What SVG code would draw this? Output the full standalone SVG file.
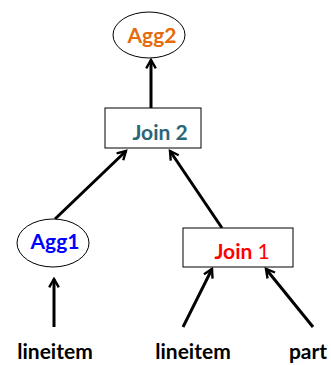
<svg xmlns="http://www.w3.org/2000/svg" width="331" height="365" viewBox="0 0 331 365">
<style>
.t{font-family:Lato,"Open Sans","Liberation Sans",sans-serif;font-weight:bold;font-size:21px;text-anchor:middle}
.shape{fill:#fff;stroke:#000;stroke-width:1}
.e{stroke:#000;stroke-width:3;fill:none;marker-end:url(#ah)}
</style>
<defs>
<marker id="ah" viewBox="0 0 10 10" refX="8" refY="5" markerWidth="4" markerHeight="4" orient="auto" markerUnits="strokeWidth">
<polyline points="1,1 8,5 1,9" fill="none" stroke="#000" stroke-width="2"/>
</marker>
</defs>
<g id="edges">
<line class="e" x1="151" y1="108" x2="151" y2="60"/>
<line class="e" x1="55" y1="219" x2="126" y2="151"/>
<line class="e" x1="222" y1="228" x2="170" y2="151"/>
<line class="e" x1="54" y1="327" x2="54" y2="279"/>
<line class="e" x1="183" y1="327" x2="212" y2="269"/>
<line class="e" x1="313" y1="327" x2="266" y2="269"/>
</g>
<g id="agg2">
<ellipse class="shape" cx="149" cy="35" rx="36" ry="23"/>
<text class="t" x="152" y="43" fill="#E46C0A">Agg2</text>
</g>
<g id="join2">
<rect class="shape" x="105" y="108" width="96" height="40"/>
<text class="t" x="160" y="140" fill="#2A6678">Join 2</text>
</g>
<g id="agg1">
<ellipse class="shape" cx="53" cy="243" rx="36" ry="24"/>
<text class="t" x="55" y="249" fill="#0000FF">Agg1</text>
</g>
<g id="join1">
<rect class="shape" x="183" y="228" width="110" height="39"/>
<text class="t" x="242" y="259" fill="#FF0000">Join <tspan font-weight="normal">1</tspan></text>
</g>
<g id="labels">
<text class="t" x="55" y="359" fill="#000">lineitem</text>
<text class="t" x="193" y="359" fill="#000">lineitem</text>
<text class="t" x="308" y="359" fill="#000">part</text>
</g>
</svg>
